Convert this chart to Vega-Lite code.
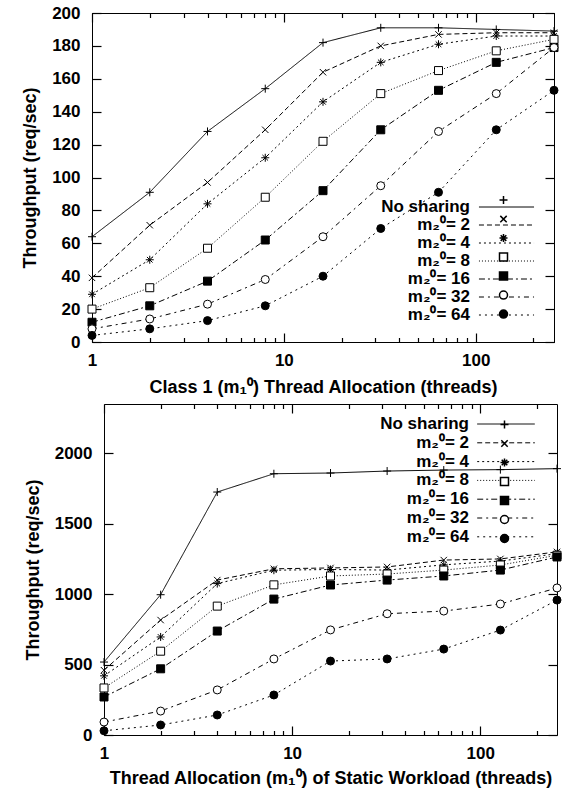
{
  "$schema": "https://vega.github.io/schema/vega-lite/v6.json",
  "padding": {"left": 21, "top": 3, "right": 5, "bottom": 3},
  "config": {
    "font": "Liberation Sans",
    "view": {"stroke": "black", "strokeWidth": 1},
    "axis": {
      "grid": false,
      "ticks": true,
      "zindex": 1,
      "labelFont": "Liberation Sans",
      "labelFontSize": 17,
      "labelFontWeight": "bold",
      "labelColor": "black",
      "titleFont": "Liberation Sans",
      "titleFontSize": 18,
      "titleFontWeight": "bold",
      "titleColor": "black",
      "domainColor": "black",
      "tickColor": "#000000",
      "tickOpacity": 1,
      "tickWidth": 1.2,
      "labelOverlap": false,
      "labelFlush": false
    },
    "legend": {
      "labelFont": "Liberation Sans",
      "labelFontSize": 17,
      "labelFontWeight": "bold",
      "labelColor": "black",
      "padding": 0,
      "labelLimit": 250
    }
  },
  "datasets": {
    "top": [
      {"series": "No sharing", "threads": 1, "tput": 64},
      {"series": "No sharing", "threads": 2, "tput": 91},
      {"series": "No sharing", "threads": 4, "tput": 128},
      {"series": "No sharing", "threads": 8, "tput": 154},
      {"series": "No sharing", "threads": 16, "tput": 182},
      {"series": "No sharing", "threads": 32, "tput": 191},
      {"series": "No sharing", "threads": 64, "tput": 191},
      {"series": "No sharing", "threads": 128, "tput": 190},
      {"series": "No sharing", "threads": 256, "tput": 189},
      {"series": "m₂⁰= 2", "threads": 1, "tput": 39},
      {"series": "m₂⁰= 2", "threads": 2, "tput": 71},
      {"series": "m₂⁰= 2", "threads": 4, "tput": 97},
      {"series": "m₂⁰= 2", "threads": 8, "tput": 129},
      {"series": "m₂⁰= 2", "threads": 16, "tput": 164},
      {"series": "m₂⁰= 2", "threads": 32, "tput": 180},
      {"series": "m₂⁰= 2", "threads": 64, "tput": 187},
      {"series": "m₂⁰= 2", "threads": 128, "tput": 188},
      {"series": "m₂⁰= 2", "threads": 256, "tput": 188},
      {"series": "m₂⁰= 4", "threads": 1, "tput": 29},
      {"series": "m₂⁰= 4", "threads": 2, "tput": 50},
      {"series": "m₂⁰= 4", "threads": 4, "tput": 84},
      {"series": "m₂⁰= 4", "threads": 8, "tput": 112},
      {"series": "m₂⁰= 4", "threads": 16, "tput": 146},
      {"series": "m₂⁰= 4", "threads": 32, "tput": 170},
      {"series": "m₂⁰= 4", "threads": 64, "tput": 181},
      {"series": "m₂⁰= 4", "threads": 128, "tput": 186},
      {"series": "m₂⁰= 4", "threads": 256, "tput": 186},
      {"series": "m₂⁰= 8", "threads": 1, "tput": 20},
      {"series": "m₂⁰= 8", "threads": 2, "tput": 33},
      {"series": "m₂⁰= 8", "threads": 4, "tput": 57},
      {"series": "m₂⁰= 8", "threads": 8, "tput": 88},
      {"series": "m₂⁰= 8", "threads": 16, "tput": 122},
      {"series": "m₂⁰= 8", "threads": 32, "tput": 151},
      {"series": "m₂⁰= 8", "threads": 64, "tput": 165},
      {"series": "m₂⁰= 8", "threads": 128, "tput": 177},
      {"series": "m₂⁰= 8", "threads": 256, "tput": 184},
      {"series": "m₂⁰= 16", "threads": 1, "tput": 12},
      {"series": "m₂⁰= 16", "threads": 2, "tput": 22},
      {"series": "m₂⁰= 16", "threads": 4, "tput": 37},
      {"series": "m₂⁰= 16", "threads": 8, "tput": 62},
      {"series": "m₂⁰= 16", "threads": 16, "tput": 92},
      {"series": "m₂⁰= 16", "threads": 32, "tput": 129},
      {"series": "m₂⁰= 16", "threads": 64, "tput": 153},
      {"series": "m₂⁰= 16", "threads": 128, "tput": 170},
      {"series": "m₂⁰= 16", "threads": 256, "tput": 179},
      {"series": "m₂⁰= 32", "threads": 1, "tput": 8},
      {"series": "m₂⁰= 32", "threads": 2, "tput": 14},
      {"series": "m₂⁰= 32", "threads": 4, "tput": 23},
      {"series": "m₂⁰= 32", "threads": 8, "tput": 38},
      {"series": "m₂⁰= 32", "threads": 16, "tput": 64},
      {"series": "m₂⁰= 32", "threads": 32, "tput": 95},
      {"series": "m₂⁰= 32", "threads": 64, "tput": 128},
      {"series": "m₂⁰= 32", "threads": 128, "tput": 151},
      {"series": "m₂⁰= 32", "threads": 256, "tput": 179},
      {"series": "m₂⁰= 64", "threads": 1, "tput": 4},
      {"series": "m₂⁰= 64", "threads": 2, "tput": 8},
      {"series": "m₂⁰= 64", "threads": 4, "tput": 13},
      {"series": "m₂⁰= 64", "threads": 8, "tput": 22},
      {"series": "m₂⁰= 64", "threads": 16, "tput": 40},
      {"series": "m₂⁰= 64", "threads": 32, "tput": 69},
      {"series": "m₂⁰= 64", "threads": 64, "tput": 91},
      {"series": "m₂⁰= 64", "threads": 128, "tput": 129},
      {"series": "m₂⁰= 64", "threads": 256, "tput": 153}
    ],
    "bottom": [
      {"series": "No sharing", "threads": 1, "tput": 518},
      {"series": "No sharing", "threads": 2, "tput": 996},
      {"series": "No sharing", "threads": 4, "tput": 1725},
      {"series": "No sharing", "threads": 8, "tput": 1855},
      {"series": "No sharing", "threads": 16, "tput": 1860},
      {"series": "No sharing", "threads": 32, "tput": 1874},
      {"series": "No sharing", "threads": 64, "tput": 1881},
      {"series": "No sharing", "threads": 128, "tput": 1884},
      {"series": "No sharing", "threads": 256, "tput": 1891},
      {"series": "m₂⁰= 2", "threads": 1, "tput": 460},
      {"series": "m₂⁰= 2", "threads": 2, "tput": 816},
      {"series": "m₂⁰= 2", "threads": 4, "tput": 1100},
      {"series": "m₂⁰= 2", "threads": 8, "tput": 1180},
      {"series": "m₂⁰= 2", "threads": 16, "tput": 1186},
      {"series": "m₂⁰= 2", "threads": 32, "tput": 1193},
      {"series": "m₂⁰= 2", "threads": 64, "tput": 1242},
      {"series": "m₂⁰= 2", "threads": 128, "tput": 1250},
      {"series": "m₂⁰= 2", "threads": 256, "tput": 1300},
      {"series": "m₂⁰= 4", "threads": 1, "tput": 420},
      {"series": "m₂⁰= 4", "threads": 2, "tput": 696},
      {"series": "m₂⁰= 4", "threads": 4, "tput": 1075},
      {"series": "m₂⁰= 4", "threads": 8, "tput": 1170},
      {"series": "m₂⁰= 4", "threads": 16, "tput": 1175},
      {"series": "m₂⁰= 4", "threads": 32, "tput": 1171},
      {"series": "m₂⁰= 4", "threads": 64, "tput": 1208},
      {"series": "m₂⁰= 4", "threads": 128, "tput": 1235},
      {"series": "m₂⁰= 4", "threads": 256, "tput": 1287},
      {"series": "m₂⁰= 8", "threads": 1, "tput": 334},
      {"series": "m₂⁰= 8", "threads": 2, "tput": 595},
      {"series": "m₂⁰= 8", "threads": 4, "tput": 915},
      {"series": "m₂⁰= 8", "threads": 8, "tput": 1066},
      {"series": "m₂⁰= 8", "threads": 16, "tput": 1129},
      {"series": "m₂⁰= 8", "threads": 32, "tput": 1143},
      {"series": "m₂⁰= 8", "threads": 64, "tput": 1171},
      {"series": "m₂⁰= 8", "threads": 128, "tput": 1207},
      {"series": "m₂⁰= 8", "threads": 256, "tput": 1276},
      {"series": "m₂⁰= 16", "threads": 1, "tput": 270},
      {"series": "m₂⁰= 16", "threads": 2, "tput": 470},
      {"series": "m₂⁰= 16", "threads": 4, "tput": 738},
      {"series": "m₂⁰= 16", "threads": 8, "tput": 965},
      {"series": "m₂⁰= 16", "threads": 16, "tput": 1065},
      {"series": "m₂⁰= 16", "threads": 32, "tput": 1100},
      {"series": "m₂⁰= 16", "threads": 64, "tput": 1129},
      {"series": "m₂⁰= 16", "threads": 128, "tput": 1171},
      {"series": "m₂⁰= 16", "threads": 256, "tput": 1264},
      {"series": "m₂⁰= 32", "threads": 1, "tput": 92},
      {"series": "m₂⁰= 32", "threads": 2, "tput": 170},
      {"series": "m₂⁰= 32", "threads": 4, "tput": 320},
      {"series": "m₂⁰= 32", "threads": 8, "tput": 540},
      {"series": "m₂⁰= 32", "threads": 16, "tput": 746},
      {"series": "m₂⁰= 32", "threads": 32, "tput": 861},
      {"series": "m₂⁰= 32", "threads": 64, "tput": 880},
      {"series": "m₂⁰= 32", "threads": 128, "tput": 930},
      {"series": "m₂⁰= 32", "threads": 256, "tput": 1044},
      {"series": "m₂⁰= 64", "threads": 1, "tput": 30},
      {"series": "m₂⁰= 64", "threads": 2, "tput": 71},
      {"series": "m₂⁰= 64", "threads": 4, "tput": 142},
      {"series": "m₂⁰= 64", "threads": 8, "tput": 284},
      {"series": "m₂⁰= 64", "threads": 16, "tput": 525},
      {"series": "m₂⁰= 64", "threads": 32, "tput": 540},
      {"series": "m₂⁰= 64", "threads": 64, "tput": 610},
      {"series": "m₂⁰= 64", "threads": 128, "tput": 745},
      {"series": "m₂⁰= 64", "threads": 256, "tput": 958}
    ]
  },
  "concat": [
    {
      "width": 462,
      "height": 329,
      "data": {"name": "top"},
      "layer": [
        {
          "mark": {"type": "line", "color": "black", "strokeWidth": 1},
          "encoding": {
            "x": {"field": "threads", "type": "quantitative",
              "scale": {"type": "log", "domain": [1, 256], "nice": false},
              "axis": {"orient": "bottom", "values": [1,2,3,4,5,6,7,8,9,10,20,30,40,50,60,70,80,90,100,200],
                "labelExpr": "datum.value == 1 ? '1' : datum.value == 10 ? '10' : datum.value == 100 ? '100' : ''",
                "title": "Class 1 (m₁⁰) Thread Allocation (threads)", "titlePadding": 10, "ticks": true, "tickColor": "#000000",
                "labelPadding": {"condition": {"test": "datum.value == 1 || datum.value == 10 || datum.value == 100", "value": 19}, "value": 14.5},
                "tickSize": {"condition": {"test": "datum.value == 1 || datum.value == 10 || datum.value == 100", "value": -9}, "value": -4.5}}},
            "y": {"field": "tput", "type": "quantitative",
              "scale": {"domain": [0, 200], "nice": false},
              "axis": {"orient": "left", "values": [0,20,40,60,80,100,120,140,160,180,200], "format": "d", "ticks": true, "tickColor": "#000000",
                "title": "Throughput (req/sec)", "labelPadding": 21, "titlePadding": 12, "tickSize": -9}},
            "strokeDash": {"field": "series", "type": "nominal",
              "scale": {"domain": ["No sharing", "m₂⁰= 2", "m₂⁰= 4", "m₂⁰= 8", "m₂⁰= 16", "m₂⁰= 32", "m₂⁰= 64"],
                "range": [[1,0],[5,3],[2,3],[1,2],[6,3,2,3],[5,4,2,4],[2,4]]},
              "legend": {"orient": "none", "legendX": 405, "legendY": 184.5, "title": null, "rowPadding": 0,
                "symbolType": "M-3.06,0H3.06", "symbolSize": 324, "symbolStrokeColor": "black", "symbolStrokeWidth": 1,
                "labelAlign": "right", "labelOffset": -46, "labelFontSize": 17, "labelFontWeight": "bold"}}
          }
        },
        {
          "mark": {"type": "point", "filled": true, "stroke": "black", "strokeWidth": 1, "opacity": 1, "size": 64},
          "encoding": {
            "x": {"field": "threads", "type": "quantitative",
              "axis": {"orient": "top", "values": [1,2,3,4,5,6,7,8,9,10,20,30,40,50,60,70,80,90,100,200],
                "labels": false, "title": null, "ticks": true, "tickColor": "#000000",
                "tickSize": {"condition": {"test": "datum.value == 1 || datum.value == 10 || datum.value == 100", "value": -9}, "value": -4.5}}},
            "y": {"field": "tput", "type": "quantitative",
              "axis": {"orient": "right", "values": [0,20,40,60,80,100,120,140,160,180,200],
                "labels": false, "title": null, "tickSize": -9, "ticks": true, "tickColor": "#000000"}},
            "shape": {"field": "series", "type": "nominal",
              "scale": {"domain": ["m₂⁰= 64", "m₂⁰= 32", "m₂⁰= 16", "m₂⁰= 8", "m₂⁰= 4", "m₂⁰= 2", "No sharing"],
                "range": ["circle", "circle", "square", "square",
                  "M-1,0L1,0M0,-1L0,1M-0.7,-0.7L0.7,0.7M-0.7,0.7L0.7,-0.7",
                  "M-0.8,-0.8L0.8,0.8M-0.8,0.8L0.8,-0.8",
                  "M-1,0L1,0M0,-1L0,1"]},
              "legend": {"orient": "bottom-right", "offset": 18, "title": null, "clipHeight": 18.2, "rowPadding": 0,
                "labelExpr": "''", "labelOffset": 24, "symbolSize": 64,
                "values": ["No sharing", "m₂⁰= 2", "m₂⁰= 4", "m₂⁰= 8", "m₂⁰= 16", "m₂⁰= 32", "m₂⁰= 64"],
                "encode": {"symbols": {"update": {"stroke": {"value": "black"}, "strokeWidth": {"value": 1}, "opacity": {"value": 1},
                  "fill": {"signal": "(datum.value == 'm₂⁰= 8' || datum.value == 'm₂⁰= 32') ? 'white' : 'black'"}}}}}},
            "fill": {"field": "series", "type": "nominal",
              "scale": {"domain": ["m₂⁰= 64", "m₂⁰= 32", "m₂⁰= 16", "m₂⁰= 8", "m₂⁰= 4", "m₂⁰= 2", "No sharing"],
                "range": ["black", "white", "black", "white", "black", "black", "black"]},
              "legend": null}
          }
        }
      ],
      "resolve": {"axis": {"x": "independent", "y": "independent"}}
    },
    {
      "width": 465,
      "height": 331,
      "view": {"stroke": null},
      "data": {"name": "bottom"},
      "layer": [
        {
          "mark": {"type": "line", "color": "black", "strokeWidth": 1},
          "encoding": {
            "x": {"field": "threads", "type": "quantitative",
              "scale": {"type": "log", "domain": [1, 256], "nice": false, "rangeMin": 12},
              "axis": {"orient": "bottom", "values": [1,2,3,4,5,6,7,8,9,10,20,30,40,50,60,70,80,90,100,200],
                "labelExpr": "datum.value == 1 ? '1' : datum.value == 10 ? '10' : datum.value == 100 ? '100' : ''",
                "title": "Thread Allocation (m₁⁰) of Static Workload (threads)", "titlePadding": 8, "ticks": true, "tickColor": "#000000",
                "labelPadding": {"condition": {"test": "datum.value == 1 || datum.value == 10 || datum.value == 100", "value": 19}, "value": 14.5},
                "tickSize": {"condition": {"test": "datum.value == 1 || datum.value == 10 || datum.value == 100", "value": -9}, "value": -4.5}}},
            "y": {"field": "tput", "type": "quantitative",
              "scale": {"domain": [0, 2350], "nice": false},
              "axis": {"orient": "left", "values": [0,500,1000,1500,2000], "format": "d", "offset": -12, "ticks": true, "tickColor": "#000000",
                "title": "Throughput (req/sec)", "labelPadding": 21, "titlePadding": 12, "tickSize": -9}},
            "strokeDash": {"field": "series", "type": "nominal",
              "scale": {"domain": ["No sharing", "m₂⁰= 2", "m₂⁰= 4", "m₂⁰= 8", "m₂⁰= 16", "m₂⁰= 32", "m₂⁰= 64"],
                "range": [[1,0],[5,3],[2,3],[1,2],[6,3,2,3],[5,4,2,4],[2,4]]},
              "legend": {"orient": "none", "legendX": 404.5, "legendY": 10.5, "title": null, "rowPadding": 0.8,
                "symbolType": "M-3.2,0H3.2", "symbolSize": 324, "symbolStrokeColor": "black", "symbolStrokeWidth": 1,
                "labelAlign": "right", "labelOffset": -46.5, "labelFontSize": 17, "labelFontWeight": "bold"}}
          }
        },
        {
          "mark": {"type": "point", "filled": true, "stroke": "black", "strokeWidth": 1, "opacity": 1, "size": 64},
          "encoding": {
            "x": {"field": "threads", "type": "quantitative",
              "axis": {"orient": "top", "values": [1,2,3,4,5,6,7,8,9,10,20,30,40,50,60,70,80,90,100,200],
                "labels": false, "title": null, "ticks": true, "tickColor": "#000000",
                "tickSize": {"condition": {"test": "datum.value == 1 || datum.value == 10 || datum.value == 100", "value": -9}, "value": -4.5}}},
            "y": {"field": "tput", "type": "quantitative",
              "axis": {"orient": "right", "values": [0,500,1000,1500,2000],
                "labels": false, "title": null, "tickSize": -9, "ticks": true, "tickColor": "#000000"}},
            "shape": {"field": "series", "type": "nominal",
              "scale": {"domain": ["m₂⁰= 64", "m₂⁰= 32", "m₂⁰= 16", "m₂⁰= 8", "m₂⁰= 4", "m₂⁰= 2", "No sharing"],
                "range": ["circle", "circle", "square", "square",
                  "M-1,0L1,0M0,-1L0,1M-0.7,-0.7L0.7,0.7M-0.7,0.7L0.7,-0.7",
                  "M-0.8,-0.8L0.8,0.8M-0.8,0.8L0.8,-0.8",
                  "M-1,0L1,0M0,-1L0,1"]},
              "legend": {"orient": "top-right", "offset": 10.5, "title": null, "clipHeight": 19, "rowPadding": 0,
                "labelExpr": "''", "labelOffset": 34, "symbolSize": 64,
                "values": ["No sharing", "m₂⁰= 2", "m₂⁰= 4", "m₂⁰= 8", "m₂⁰= 16", "m₂⁰= 32", "m₂⁰= 64"],
                "encode": {"symbols": {"update": {"stroke": {"value": "black"}, "strokeWidth": {"value": 1}, "opacity": {"value": 1},
                  "fill": {"signal": "(datum.value == 'm₂⁰= 8' || datum.value == 'm₂⁰= 32') ? 'white' : 'black'"}}}}}},
            "fill": {"field": "series", "type": "nominal",
              "scale": {"domain": ["m₂⁰= 64", "m₂⁰= 32", "m₂⁰= 16", "m₂⁰= 8", "m₂⁰= 4", "m₂⁰= 2", "No sharing"],
                "range": ["black", "white", "black", "white", "black", "black", "black"]},
              "legend": null}
          }
        }
      ],
      "resolve": {"axis": {"x": "independent", "y": "independent"}}
    }
  ],
  "columns": 1,
  "align": "none",
  "spacing": 6,
  "resolve": {
    "scale": {"x": "independent", "y": "independent", "strokeDash": "independent", "shape": "independent", "fill": "independent"},
    "legend": {"strokeDash": "independent", "shape": "independent", "fill": "independent"}
  }
}
